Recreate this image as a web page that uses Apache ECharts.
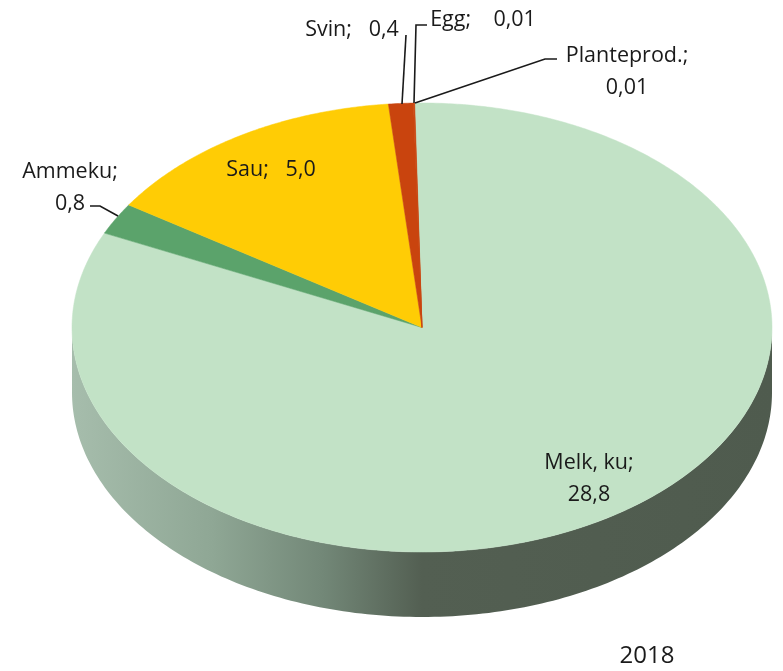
<!DOCTYPE html>
<html><head><meta charset="utf-8">
<style>html,body{margin:0;padding:0;background:#fff}#c{width:783px;height:671px}</style>
<script src="https://cdn.jsdelivr.net/npm/echarts@6/dist/echarts.min.js"></script>
</head><body><div id="c"></div>
<script>
// Data, clockwise from the top of the pie
const categories = ['Melk, ku', 'Ammeku', 'Sau', 'Svin', 'Egg', 'Planteprod.'];
const values = [28.8, 0.8, 5.0, 0.4, 0.01, 0.01];
const valueLabels = ['28,8', '0,8', '5,0', '0,4', '0,01', '0,01'];
const yearLabel = '2018';

// Styling and layout
const colors = ['#C2E2C6', '#5BA36B', '#FFCC05', '#C9440E', '#C9440E', '#C9440E'];
const cx = 422, cy = 327.5, rx = 350, ry = 224.5, depth = 65, startDeg = -1.2;
const FONT = '"Open Sans", Lato, sans-serif';
const INK = '#1a1a1a';
const total = values.reduce((a, b) => a + b, 0);

function pt(deg, dy) {
  const t = deg * Math.PI / 180;
  return [cx + rx * Math.sin(t), cy - ry * Math.cos(t) + (dy || 0)];
}
function wedge(a0, a1) {
  const pts = [[cx, cy]];
  const n = Math.max(2, Math.ceil((a1 - a0) / 0.5));
  for (let i = 0; i <= n; i++) pts.push(pt(a0 + (a1 - a0) * i / n));
  return pts;
}
function wall() {
  const pts = [];
  for (let d = 90; d <= 270; d += 1) pts.push(pt(d));
  for (let d = 270; d >= 90; d -= 1) pts.push(pt(d, depth));
  return pts;
}

const angles = [];
let acc = startDeg;
values.forEach(v => { const a = v / total * 360; angles.push([acc, acc + a]); acc += a; });

const wallGradient = new echarts.graphic.LinearGradient(0, 0, 1, 0, [
  { offset: 0, color: '#A6BDAC' },
  { offset: 0.2, color: '#8FA795' },
  { offset: 0.36, color: '#728777' },
  { offset: 0.5, color: '#535F52' },
  { offset: 1, color: '#4F5B4E' }
]);

function renderItem(params, api) {
  const i = params.dataIndex;
  const [a0, a1] = angles[i];
  const children = [];
  if (i === 0) {
    children.push({ type: 'polygon', shape: { points: wall() }, style: { fill: wallGradient } });
  }
  children.push({
    type: 'polygon', shape: { points: wedge(a0, a1) },
    style: { fill: colors[i], stroke: colors[i], lineWidth: 0.5 }
  });
  return { type: 'group', children };
}

const leader = pts => ({
  type: 'polyline', silent: true, shape: { points: pts },
  style: { stroke: INK, lineWidth: 1.6, fill: null }, z: 10
});
const label = (x, y, t, size) => ({
  type: 'text', silent: true, x, y, z: 10,
  style: { text: t, font: (size || 21.5) + 'px ' + FONT, lineHeight: 32, fill: INK, align: 'center' }
});

const chart = echarts.init(document.getElementById('c'), null, { renderer: 'canvas' });
chart.setOption({
  animation: false,
  backgroundColor: '#fff',
  series: [{
    type: 'custom',
    coordinateSystem: 'none',
    renderItem,
    data: categories.map((n, i) => ({ name: n, value: [values[i]] })),
    silent: true
  }],
  graphic: [
    leader([[402, 104], [406, 35]]),
    leader([[414, 103], [416, 25], [427, 25]]),
    leader([[415, 103], [545, 59], [557, 59]]),
    leader([[118, 216], [100, 206], [90, 206]]),
    label(352, 14, categories[3] + ';   ' + valueLabels[3]),
    label(483, 4, categories[4] + ';    ' + valueLabels[4]),
    label(627, 40, categories[5] + ';\n' + valueLabels[5]),
    label(70, 156, categories[1] + ';\n' + valueLabels[1]),
    label(271, 154, categories[2] + ';   ' + valueLabels[2]),
    label(589, 447, categories[0] + ';\n' + valueLabels[0]),
    label(647, 640, yearLabel, 24)
  ]
});
</script></body></html>
